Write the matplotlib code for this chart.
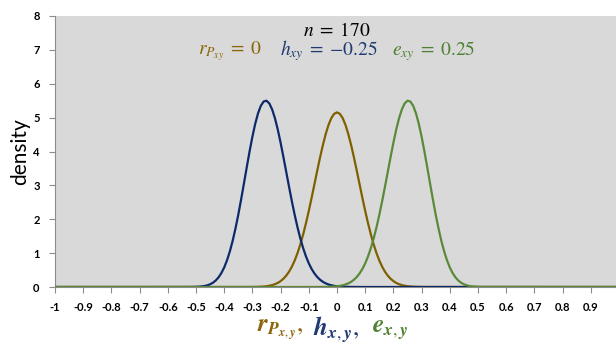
import matplotlib
matplotlib.use("Agg")
import matplotlib.pyplot as plt

plt.rcParams['mathtext.fontset'] = 'stix'

# ---- data ----
# sampling positions of each curve
r_x = [-1.00,
       -0.32, -0.31, -0.30, -0.29, -0.28, -0.27, -0.26, -0.25, -0.24, -0.23,
       -0.22, -0.21, -0.20, -0.19, -0.18, -0.17, -0.16, -0.15, -0.14, -0.13,
       -0.12, -0.11, -0.10, -0.09, -0.08, -0.07, -0.06, -0.05, -0.04, -0.03,
       -0.02, -0.01, 0.00, 0.01, 0.02, 0.03, 0.04, 0.05, 0.06, 0.07,
       0.08, 0.09, 0.10, 0.11, 0.12, 0.13, 0.14, 0.15, 0.16, 0.17,
       0.18, 0.19, 0.20, 0.21, 0.22, 0.23, 0.24, 0.25, 0.26, 0.27,
       0.28, 0.29, 0.30, 0.31, 0.32,
       1.00]
r_density = [0.0,
             0.0006, 0.0011, 0.0019, 0.0033, 0.0056, 0.009, 0.015, 0.024, 0.037, 0.056,
             0.083, 0.121, 0.174, 0.244, 0.336, 0.453, 0.601, 0.783, 1.001, 1.258,
             1.553, 1.885, 2.246, 2.633, 3.034, 3.437, 3.828, 4.193, 4.517, 4.786,
             4.988, 5.113, 5.155, 5.113, 4.988, 4.786, 4.517, 4.193, 3.828, 3.437,
             3.034, 2.633, 2.246, 1.885, 1.553, 1.258, 1.001, 0.783, 0.601, 0.453,
             0.336, 0.244, 0.174, 0.121, 0.083, 0.056, 0.037, 0.024, 0.015, 0.009,
             0.0056, 0.0033, 0.0019, 0.0011, 0.0006,
             0.0]

h_x = [-1.00,
       -0.56, -0.55, -0.54, -0.53, -0.52, -0.51, -0.50, -0.49, -0.48, -0.47,
       -0.46, -0.45, -0.44, -0.43, -0.42, -0.41, -0.40, -0.39, -0.38, -0.37,
       -0.36, -0.35, -0.34, -0.33, -0.32, -0.31, -0.30, -0.29, -0.28, -0.27,
       -0.26, -0.25, -0.24, -0.23, -0.22, -0.21, -0.20, -0.19, -0.18, -0.17,
       -0.16, -0.15, -0.14, -0.13, -0.12, -0.11, -0.10, -0.09, -0.08, -0.07,
       -0.06, -0.05, -0.04, -0.03, -0.02, -0.01, 0.00, 0.01, 0.02, 0.03,
       0.04, 0.05, 0.06, 0.07, 0.08, 0.09, 0.10,
       1.00]
h_density = [0.0,
             0.0001, 0.0001, 0.0003, 0.0006, 0.0013, 0.0026, 0.0051, 0.0094, 0.0170, 0.0294,
             0.0494, 0.0802, 0.1261, 0.1926, 0.2856, 0.4117, 0.5774, 0.7890, 1.0502, 1.3634,
             1.7275, 2.1379, 2.5853, 3.0566, 3.5354, 4.0024, 4.4367, 4.8183, 5.1282, 5.3512,
             5.4766, 5.4992, 5.4190, 5.2425, 4.9801, 4.6467, 4.2595, 3.8368, 3.3965, 2.9558,
             2.5289, 2.1273, 1.7600, 1.4323, 1.1463, 0.9025, 0.6991, 0.5327, 0.3993, 0.2946,
             0.2138, 0.1527, 0.1073, 0.0742, 0.0504, 0.0337, 0.0222, 0.0144, 0.0092, 0.0057,
             0.0035, 0.0021, 0.0013, 0.0007, 0.0004, 0.0002, 0.0,
             0.0]

e_x = [-1.00,
       -0.10, -0.09, -0.08, -0.07, -0.06, -0.05, -0.04, -0.03, -0.02, -0.01,
       0.00, 0.01, 0.02, 0.03, 0.04, 0.05, 0.06, 0.07, 0.08, 0.09,
       0.10, 0.11, 0.12, 0.13, 0.14, 0.15, 0.16, 0.17, 0.18, 0.19,
       0.20, 0.21, 0.22, 0.23, 0.24, 0.25, 0.26, 0.27, 0.28, 0.29,
       0.30, 0.31, 0.32, 0.33, 0.34, 0.35, 0.36, 0.37, 0.38, 0.39,
       0.40, 0.41, 0.42, 0.43, 0.44, 0.45, 0.46, 0.47, 0.48, 0.49,
       0.50, 0.51, 0.52, 0.53, 0.54, 0.55, 0.56,
       1.00]
e_density = [0.0,
             0.0, 0.0002, 0.0004, 0.0007, 0.0013, 0.0021, 0.0035, 0.0057, 0.0092, 0.0144,
             0.0222, 0.0337, 0.0504, 0.0742, 0.1073, 0.1527, 0.2138, 0.2946, 0.3993, 0.5327,
             0.6991, 0.9025, 1.1463, 1.4323, 1.7600, 2.1273, 2.5289, 2.9558, 3.3965, 3.8368,
             4.2595, 4.6467, 4.9801, 5.2425, 5.4190, 5.4992, 5.4766, 5.3512, 5.1282, 4.8183,
             4.4367, 4.0024, 3.5354, 3.0566, 2.5853, 2.1379, 1.7275, 1.3634, 1.0502, 0.7890,
             0.5774, 0.4117, 0.2856, 0.1926, 0.1261, 0.0802, 0.0494, 0.0294, 0.0170, 0.0094,
             0.0051, 0.0026, 0.0013, 0.0006, 0.0003, 0.0001, 0.0001,
             0.0]

x_ticks = [-1, -0.9, -0.8, -0.7, -0.6, -0.5, -0.4, -0.3, -0.2, -0.1, 0,
           0.1, 0.2, 0.3, 0.4, 0.5, 0.6, 0.7, 0.8, 0.9, 1]
x_tick_labels = ['-1', '-0.9', '-0.8', '-0.7', '-0.6', '-0.5', '-0.4', '-0.3', '-0.2', '-0.1', '0',
                 '0.1', '0.2', '0.3', '0.4', '0.5', '0.6', '0.7', '0.8', '0.9', '1']
y_ticks = [0, 1, 2, 3, 4, 5, 6, 7, 8]

c_r = '#7F6000'
c_h = '#0C2A6A'
c_e = '#5A8A38'
t_r = '#8A6508'
t_h = '#1F3B72'
t_e = '#4F8132'

W, H = 616, 345
fig = plt.figure(figsize=(W / 100, H / 100), dpi=100)
fig.patch.set_facecolor('white')

x0, x1 = 55, 619
y0, y1 = 287, 16
ax = fig.add_axes([x0 / W, (H - y0) / H, (x1 - x0) / W, (y0 - y1) / H])
ax.set_facecolor('#D9D9D9')

ax.plot(r_x, r_density, color=c_r, lw=1.6, solid_joinstyle='round', zorder=3)
ax.plot(h_x, h_density, color=c_h, lw=1.6, solid_joinstyle='round', zorder=4)
ax.plot(e_x, e_density, color=c_e, lw=1.6, solid_joinstyle='round', zorder=5)

ax.set_xlim(-1, 1)
ax.set_ylim(0, 8)
ax.set_xticks(x_ticks)
ax.set_xticklabels(x_tick_labels)
ax.set_yticks(y_ticks)

for s in ['top', 'right']:
    ax.spines[s].set_visible(False)
ax.spines['left'].set_color('#8C8C8C')
ax.spines['bottom'].set_color('#8C8C8C')
ax.tick_params(axis='both', direction='out', length=4, width=0.8, color='#8C8C8C',
               labelsize=8)
for lab in ax.get_xticklabels() + ax.get_yticklabels():
    lab.set_fontfamily('Lato')
    lab.set_fontweight('bold')
ax.tick_params(axis='y', pad=7)
ax.tick_params(axis='x', pad=7)

fig.text(20 / W, 1 - 152 / H, 'density', rotation=90, ha='center', va='center',
         fontsize=15, family='Lato')

# annotation
fig.text(337 / W, 1 - 31 / H, r'$n\;=\;170$', ha='center', va='center', fontsize=14, color='black')
fig.text(230 / W, 1 - 51 / H, r'$r_{P_{xy}}\;=\;0$', ha='center', va='center', fontsize=14, color=t_r)
fig.text(329 / W, 1 - 51 / H, r'$h_{xy}\;=\;{-}0.25$', ha='center', va='center', fontsize=14, color=t_h)
fig.text(434 / W, 1 - 51 / H, r'$e_{xy}\;=\;0.25$', ha='center', va='center', fontsize=14, color=t_e)

# x label
fig.text(280 / W, 1 - 330 / H, r'$\mathbfit{r}_{\mathbfit{P}_{\mathbfit{x},\mathbfit{y}}},$',
         ha='center', va='center', fontsize=18, color=t_r)
fig.text(336 / W, 1 - 330 / H, r'$\mathbfit{h}_{\mathbfit{x},\mathbfit{y}},$',
         ha='center', va='center', fontsize=18, color=t_h)
fig.text(390 / W, 1 - 330 / H, r'$\mathbfit{e}_{\mathbfit{x},\mathbfit{y}}$',
         ha='center', va='center', fontsize=18, color=t_e)

fig.savefig('out.png', dpi=100, facecolor='white')
